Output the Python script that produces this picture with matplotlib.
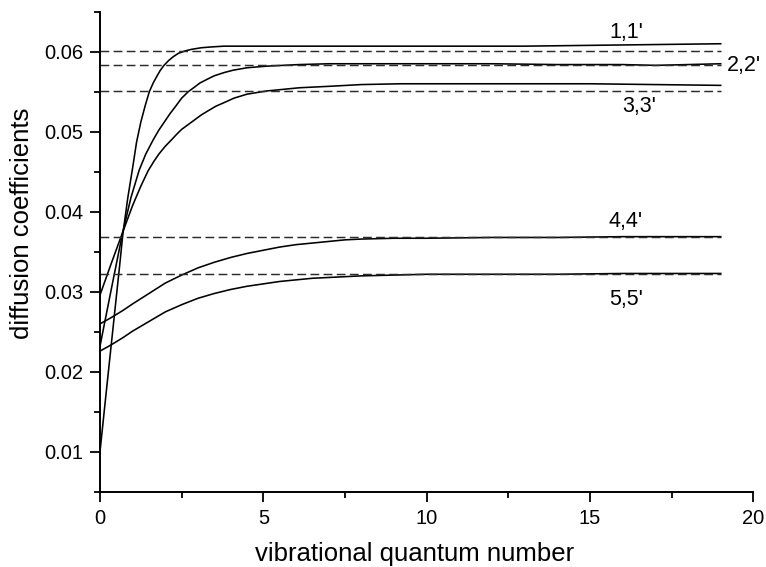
import matplotlib
matplotlib.use("Agg")
import matplotlib.pyplot as plt
from matplotlib.ticker import MultipleLocator

plt.rcParams['font.family'] = ['Liberation Sans', 'DejaVu Sans']

# curves (vibrational quantum number, diffusion coefficient)
curve1_x = [0, 0.2, 0.4, 0.6, 0.7, 0.85, 1.0, 1.12, 1.25, 1.38, 1.51, 1.63, 1.75,
            1.85, 1.96, 2.1, 2.25, 2.4, 2.6, 2.8, 3.1, 3.4, 3.8, 5, 7, 9, 11, 13,
            15, 17, 19]
curve1_y = [0.0100, 0.0178, 0.0255, 0.0332, 0.0372, 0.0417, 0.0455, 0.0487, 0.0512,
            0.0532, 0.0550, 0.0561, 0.0570, 0.0577, 0.0583, 0.0589, 0.0594, 0.0598,
            0.0601, 0.0603, 0.0605, 0.0606, 0.0607, 0.0607, 0.0607, 0.0607, 0.0607,
            0.0607, 0.0608, 0.0609, 0.0610]

curve2_x = [0, 0.35, 0.7, 0.95, 1.2, 1.4, 1.63, 1.8, 2.0, 2.15, 2.3, 2.5, 2.7,
            2.9, 3.06, 3.3, 3.5, 3.8, 4.08, 4.5, 5.1, 5.6, 6.1, 7, 8, 10, 12, 14,
            16, 17, 19]
curve2_y = [0.0232, 0.0304, 0.0375, 0.0418, 0.0452, 0.0472, 0.0490, 0.0502, 0.0514,
            0.0523, 0.0531, 0.0542, 0.0550, 0.0556, 0.0561, 0.0566, 0.0570, 0.0574,
            0.0577, 0.0580, 0.0582, 0.0583, 0.0584, 0.0585, 0.0585, 0.0585, 0.0585,
            0.0584, 0.0584, 0.0583, 0.0585]

curve3_x = [0, 0.35, 0.7, 1.0, 1.25, 1.47, 1.65, 1.8, 2.0, 2.19, 2.35, 2.5, 2.7,
            2.9, 3.1, 3.3, 3.55, 3.83, 4.1, 4.5, 5.1, 5.6, 6.1, 7.1, 8, 9.2, 11,
            13, 15, 17, 19]
curve3_y = [0.0296, 0.0336, 0.0375, 0.0408, 0.0432, 0.0451, 0.0463, 0.0472, 0.0482,
            0.0490, 0.0497, 0.0503, 0.0509, 0.0515, 0.0521, 0.0526, 0.0532, 0.0537,
            0.0542, 0.0547, 0.0551, 0.0553, 0.0555, 0.0557, 0.0559, 0.0560, 0.0560,
            0.0560, 0.0560, 0.0559, 0.0558]

curve4_x = [0, 0.35, 0.71, 1.0, 1.5, 2.0, 2.5, 3.0, 3.5, 4, 4.5, 5, 5.5, 6, 6.5,
            7, 7.5, 8, 9, 10, 12, 14, 16, 19]
curve4_y = [0.0260, 0.0268, 0.0277, 0.0285, 0.0298, 0.0311, 0.0321, 0.0330, 0.0337,
            0.0343, 0.0348, 0.0352, 0.0356, 0.0359, 0.0361, 0.0363, 0.0365, 0.0366,
            0.0367, 0.0367, 0.0368, 0.0368, 0.0369, 0.0369]

curve5_x = [0, 0.35, 0.71, 1.0, 1.5, 2.0, 2.5, 3.0, 3.5, 4, 4.5, 5, 5.5, 6, 6.5,
            7, 7.5, 8, 9, 10, 12, 14, 16, 19]
curve5_y = [0.0226, 0.0234, 0.0243, 0.0251, 0.0263, 0.0275, 0.0284, 0.0292, 0.0298,
            0.0303, 0.0307, 0.0310, 0.0313, 0.0315, 0.0317, 0.0318, 0.0319, 0.0320,
            0.0321, 0.0322, 0.0322, 0.0322, 0.0323, 0.0323]

# limiting values (dashed)
limit_x = [0, 19]
limit_values = [0.0601, 0.0583, 0.0551, 0.0369, 0.0322]

labels = ["1,1'", "2,2'", "3,3'", "4,4'", "5,5'"]
label_x = [16.1, 19.2, 16.5, 16.1, 16.1]
label_y = [0.0624, 0.0583, 0.0531, 0.0388, 0.0291]

fig = plt.figure(figsize=(7.66, 5.67), dpi=100)
ax = fig.add_axes([0.1305, 0.1323, 0.853, 0.847])

curves = [(curve1_x, curve1_y), (curve2_x, curve2_y), (curve3_x, curve3_y),
          (curve4_x, curve4_y), (curve5_x, curve5_y)]
for cx, cy in curves:
    ax.plot(cx, cy, color='black', lw=1.15, solid_joinstyle='round')

for v in limit_values:
    ax.plot(limit_x, [v, v], color='#2b2b2b', lw=1.05, dashes=(6, 3))

for txt, lx, ly in zip(labels, label_x, label_y):
    ha = 'left' if txt == "2,2'" else 'center'
    ax.text(lx, ly, txt, ha=ha, va='center', fontsize=15.5)

ax.set_xlim(0, 20)
ax.set_ylim(0.005, 0.065)
ax.xaxis.set_minor_locator(MultipleLocator(2.5))
ax.yaxis.set_minor_locator(MultipleLocator(0.005))
ax.set_xticks([0, 5, 10, 15, 20])
ax.set_xticklabels(['0', '5', '10', '15', '20'])
ax.set_yticks([0.01, 0.02, 0.03, 0.04, 0.05, 0.06])
ax.set_yticklabels(['0.01', '0.02', '0.03', '0.04', '0.05', '0.06'])

ax.spines['top'].set_visible(False)
ax.spines['right'].set_visible(False)
for s in ('left', 'bottom'):
    ax.spines[s].set_linewidth(1.4)
ax.tick_params(which='major', direction='out', length=7, width=1.3, labelsize=14.5, pad=5)
ax.tick_params(which='minor', direction='out', length=4, width=1.3)

ax.set_xlabel('vibrational quantum number', fontsize=18.5)
ax.set_ylabel('diffusion coefficients', fontsize=18.5)
ax.xaxis.set_label_coords(0.482, -0.104)
ax.yaxis.set_label_coords(-0.101, 0.56)

fig.savefig('out.png', dpi=100)
